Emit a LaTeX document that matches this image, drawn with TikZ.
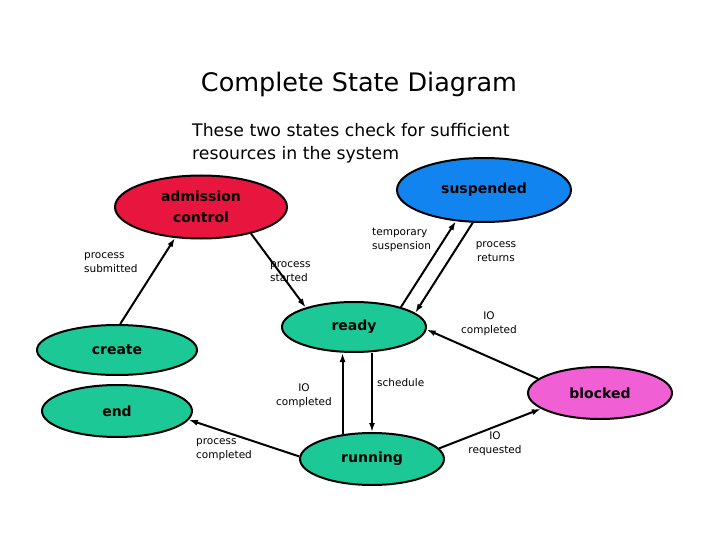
\documentclass[tikz,border=0pt]{standalone}
\usepackage{fontspec}
\setmainfont{DejaVu Sans}
\usetikzlibrary{shapes.geometric, arrows.meta}
\definecolor{admRed}{RGB}{232,22,62}
\definecolor{suspBlue}{RGB}{18,132,240}
\definecolor{stateGreen}{RGB}{28,200,150}
\definecolor{blockPink}{RGB}{240,96,212}
\tikzset{
    statenode/.style={
        ellipse,
        draw,
        line width=2pt,
        inner sep=0pt,
        align=center,
        font=\bfseries\fontsize{14}{21}\selectfont
    },
    ptr/.style={
        -{Latex[length=9pt,width=6pt]},
        line width=2pt
    },
    lbl/.style={
        align=left,
        inner sep=0pt,
        font=\fontsize{10.5}{14}\selectfont
    }
}

\begin{document}
\begin{tikzpicture}[x=1pt, y=-1pt]
    \useasboundingbox (0,0) rectangle (720,540);

    \node[font=\fontsize{25.5}{28}\selectfont] (title) at (359,84) {Complete State Diagram};
    \node[anchor=west, align=left, inner sep=0pt, font=\fontsize{17.3}{23}\selectfont] (note) at (192,143)
        {These two states check for sufficient\\resources in the system};

    % states
    \node[statenode, fill=admRed, minimum width=172pt, minimum height=63pt] (adm) at (201,207) {admission\\control};
    \node[statenode, fill=suspBlue, minimum width=174pt, minimum height=64pt] (susp) at (484,190) {suspended};
    \node[statenode, fill=stateGreen, minimum width=144pt, minimum height=50pt] (ready) at (354,327) {ready};
    \node[statenode, fill=stateGreen, minimum width=160pt, minimum height=50pt] (create) at (117,350) {create};
    \node[statenode, fill=stateGreen, minimum width=150pt, minimum height=52pt] (end) at (117,411) {end};
    \node[statenode, fill=stateGreen, minimum width=144pt, minimum height=52pt] (run) at (372,459) {running};
    \node[statenode, fill=blockPink, minimum width=144pt, minimum height=52pt] (block) at (600,393) {blocked};

    % transitions
    \draw[ptr] (create.83) -- (adm.230);
    \draw[ptr] (adm.332) -- (ready.158);
    \draw[ptr] (ready.23) -- (susp.228);
    \draw[ptr] (susp.251) -- (ready.13);
    \draw[ptr] (block.167) -- (ready.358);
    \draw[ptr] (run.140) -- (run.140 |- ready.south);
    \draw[ptr] (ready.south -| run.north) -- (run.north);
    \draw[ptr] (run.178) -- (end.353);
    \draw[ptr] (run.9) -- (block.195);

    % labels
    \node[lbl, anchor=west] (lsub) at (84,263) {process\\submitted};
    \node[lbl, anchor=west] (lstart) at (270,272) {process\\started};
    \node[lbl, anchor=west] (ltemp) at (372,240) {temporary\\suspension};
    \node[lbl, align=center] (lret) at (496,252) {process\\returns};
    \node[lbl, align=center] (lioc) at (489,324) {IO\\completed};
    \node[lbl, align=center] (lioc2) at (304,396) {IO\\completed};
    \node[lbl, anchor=west] (lsched) at (377,383) {schedule};
    \node[lbl, anchor=west] (lpc) at (196,450) {process\\completed};
    \node[lbl, align=center] (lior) at (495,444) {IO\\requested};
\end{tikzpicture}
\end{document}
